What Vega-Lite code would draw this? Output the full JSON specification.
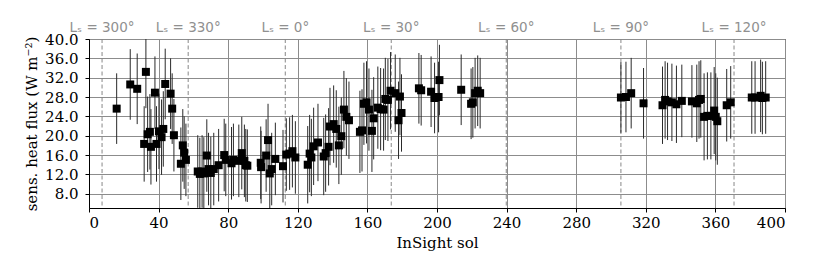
{
  "$schema": "https://vega.github.io/schema/vega-lite/v6.json",
  "width": 696,
  "height": 169,
  "autosize": "none",
  "padding": {"left": 89, "top": 39, "right": 38, "bottom": 67},
  "background": "white",
  "config": {
    "view": {"stroke": "black", "strokeWidth": 1},
    "axis": {
      "labelFont": "DejaVu Serif",
      "titleFont": "DejaVu Serif",
      "labelFontSize": 15,
      "titleFontSize": 15,
      "titleFontWeight": "normal",
      "labelColor": "black",
      "titleColor": "black",
      "domainColor": "black",
      "tickColor": "black",
      "tickSize": 4,
      "gridColor": "#8c8c8c",
      "gridWidth": 1,
      "labelOverlap": false
    }
  },
  "datasets": {
    "flux": [
      {"sol": 15.9, "flux": 25.6, "err": 7.3},
      {"sol": 23.7, "flux": 30.6, "err": 7.3},
      {"sol": 27.7, "flux": 29.7, "err": 7.3},
      {"sol": 32.7, "flux": 33.2, "err": 7.5},
      {"sol": 31.7, "flux": 18.3, "err": 7.8},
      {"sol": 33.7, "flux": 20.3, "err": 7.8},
      {"sol": 35.0, "flux": 20.8, "err": 7.8},
      {"sol": 35.6, "flux": 17.7, "err": 7.8},
      {"sol": 37.9, "flux": 28.9, "err": 7.5},
      {"sol": 38.8, "flux": 18.3, "err": 7.8},
      {"sol": 40.2, "flux": 20.9, "err": 7.8},
      {"sol": 41.7, "flux": 19.7, "err": 7.8},
      {"sol": 42.7, "flux": 21.4, "err": 7.8},
      {"sol": 43.8, "flux": 30.7, "err": 7.3},
      {"sol": 46.9, "flux": 28.7, "err": 7.3},
      {"sol": 47.8, "flux": 25.6, "err": 7.3},
      {"sol": 48.8, "flux": 20.1, "err": 7.5},
      {"sol": 52.8, "flux": 14.2, "err": 7.5},
      {"sol": 53.9, "flux": 18.0, "err": 7.5},
      {"sol": 54.7, "flux": 16.5, "err": 7.5},
      {"sol": 55.7, "flux": 15.0, "err": 7.5},
      {"sol": 62.5, "flux": 12.6, "err": 7.5},
      {"sol": 63.7, "flux": 12.1, "err": 7.5},
      {"sol": 65.0, "flux": 12.6, "err": 7.5},
      {"sol": 66.0, "flux": 12.2, "err": 7.5},
      {"sol": 67.7, "flux": 15.9, "err": 7.5},
      {"sol": 68.7, "flux": 13.1, "err": 7.5},
      {"sol": 70.0, "flux": 12.3, "err": 7.5},
      {"sol": 71.7, "flux": 13.1, "err": 7.5},
      {"sol": 74.5, "flux": 13.9, "err": 7.5},
      {"sol": 77.7, "flux": 16.0, "err": 7.5},
      {"sol": 78.6, "flux": 15.0, "err": 7.5},
      {"sol": 81.9, "flux": 14.3, "err": 7.5},
      {"sol": 83.0, "flux": 15.0, "err": 7.5},
      {"sol": 86.1, "flux": 14.8, "err": 7.5},
      {"sol": 87.8, "flux": 16.4, "err": 7.5},
      {"sol": 89.3, "flux": 14.8, "err": 7.5},
      {"sol": 90.1, "flux": 13.9, "err": 7.5},
      {"sol": 91.0, "flux": 13.8, "err": 7.5},
      {"sol": 98.7, "flux": 14.4, "err": 7.5},
      {"sol": 98.9, "flux": 13.5, "err": 7.5},
      {"sol": 101.8, "flux": 15.9, "err": 7.5},
      {"sol": 102.9, "flux": 19.1, "err": 7.5},
      {"sol": 103.9, "flux": 12.2, "err": 7.5},
      {"sol": 105.0, "flux": 13.1, "err": 7.5},
      {"sol": 107.1, "flux": 15.2, "err": 7.5},
      {"sol": 111.5, "flux": 13.7, "err": 7.5},
      {"sol": 113.4, "flux": 16.1, "err": 7.5},
      {"sol": 115.3, "flux": 16.3, "err": 7.5},
      {"sol": 116.9, "flux": 16.8, "err": 7.5},
      {"sol": 118.6, "flux": 15.5, "err": 7.5},
      {"sol": 125.7, "flux": 14.0, "err": 8.0},
      {"sol": 126.8, "flux": 16.3, "err": 8.0},
      {"sol": 127.8, "flux": 15.5, "err": 8.0},
      {"sol": 129.1, "flux": 17.8, "err": 8.0},
      {"sol": 131.6, "flux": 18.6, "err": 8.0},
      {"sol": 134.9, "flux": 15.7, "err": 8.0},
      {"sol": 136.0, "flux": 16.4, "err": 8.0},
      {"sol": 137.7, "flux": 17.7, "err": 8.0},
      {"sol": 138.5, "flux": 21.9, "err": 8.0},
      {"sol": 140.6, "flux": 22.4, "err": 8.0},
      {"sol": 142.1, "flux": 21.4, "err": 8.0},
      {"sol": 143.6, "flux": 18.0, "err": 8.0},
      {"sol": 145.0, "flux": 19.9, "err": 8.0},
      {"sol": 146.5, "flux": 25.4, "err": 8.0},
      {"sol": 147.9, "flux": 23.9, "err": 8.0},
      {"sol": 149.4, "flux": 23.2, "err": 8.0},
      {"sol": 155.7, "flux": 20.8, "err": 8.5},
      {"sol": 156.9, "flux": 21.1, "err": 8.5},
      {"sol": 158.0, "flux": 26.6, "err": 8.5},
      {"sol": 159.5, "flux": 26.9, "err": 8.5},
      {"sol": 160.9, "flux": 25.4, "err": 8.5},
      {"sol": 162.6, "flux": 21.0, "err": 8.5},
      {"sol": 163.6, "flux": 23.6, "err": 8.5},
      {"sol": 166.0, "flux": 25.8, "err": 8.5},
      {"sol": 167.6, "flux": 25.5, "err": 8.5},
      {"sol": 169.3, "flux": 25.4, "err": 8.5},
      {"sol": 170.3, "flux": 27.6, "err": 8.5},
      {"sol": 171.8, "flux": 27.4, "err": 8.5},
      {"sol": 173.3, "flux": 29.3, "err": 8.0},
      {"sol": 176.0, "flux": 28.8, "err": 8.0},
      {"sol": 178.7, "flux": 28.1, "err": 8.0},
      {"sol": 177.9, "flux": 23.2, "err": 8.0},
      {"sol": 179.6, "flux": 24.7, "err": 8.0},
      {"sol": 189.6, "flux": 29.8, "err": 7.3},
      {"sol": 190.9, "flux": 29.4, "err": 7.3},
      {"sol": 196.6, "flux": 29.1, "err": 7.3},
      {"sol": 198.6, "flux": 27.8, "err": 7.3},
      {"sol": 200.9, "flux": 28.0, "err": 7.3},
      {"sol": 201.4, "flux": 31.5, "err": 7.3},
      {"sol": 213.9, "flux": 29.5, "err": 7.3},
      {"sol": 219.6, "flux": 26.6, "err": 7.3},
      {"sol": 220.6, "flux": 26.9, "err": 7.3},
      {"sol": 221.9, "flux": 28.8, "err": 7.3},
      {"sol": 223.4, "flux": 29.3, "err": 7.3},
      {"sol": 224.8, "flux": 28.8, "err": 7.3},
      {"sol": 305.7, "flux": 27.9, "err": 7.3},
      {"sol": 308.6, "flux": 28.0, "err": 7.3},
      {"sol": 311.6, "flux": 28.8, "err": 7.3},
      {"sol": 318.7, "flux": 26.7, "err": 7.3},
      {"sol": 329.6, "flux": 26.3, "err": 8.0},
      {"sol": 331.1, "flux": 27.4, "err": 8.0},
      {"sol": 332.5, "flux": 27.1, "err": 8.0},
      {"sol": 335.0, "flux": 26.9, "err": 8.0},
      {"sol": 337.6, "flux": 26.5, "err": 8.0},
      {"sol": 340.7, "flux": 27.2, "err": 7.5},
      {"sol": 346.5, "flux": 27.1, "err": 7.5},
      {"sol": 349.3, "flux": 26.7, "err": 8.0},
      {"sol": 350.6, "flux": 27.4, "err": 8.0},
      {"sol": 351.6, "flux": 27.6, "err": 8.0},
      {"sol": 353.5, "flux": 23.9, "err": 9.0},
      {"sol": 355.4, "flux": 24.1, "err": 9.0},
      {"sol": 357.4, "flux": 24.1, "err": 9.0},
      {"sol": 359.3, "flux": 25.2, "err": 9.0},
      {"sol": 360.2, "flux": 23.9, "err": 9.0},
      {"sol": 361.1, "flux": 23.0, "err": 9.0},
      {"sol": 366.5, "flux": 26.3, "err": 7.5},
      {"sol": 368.8, "flux": 26.9, "err": 7.5},
      {"sol": 380.9, "flux": 27.9, "err": 7.5},
      {"sol": 382.8, "flux": 27.9, "err": 7.5},
      {"sol": 386.0, "flux": 28.25, "err": 7.5},
      {"sol": 387.0, "flux": 27.8, "err": 7.5},
      {"sol": 388.9, "flux": 27.9, "err": 7.5}
    ],
    "ls": [
      {"sol": 7.5, "label": "Lₛ = 300°"},
      {"sol": 57, "label": "Lₛ = 330°"},
      {"sol": 112.8, "label": "Lₛ = 0°"},
      {"sol": 173.7, "label": "Lₛ = 30°"},
      {"sol": 239.8, "label": "Lₛ = 60°"},
      {"sol": 305.7, "label": "Lₛ = 90°"},
      {"sol": 370.7, "label": "Lₛ = 120°"}
    ]
  },
  "encoding": {
    "x": {
      "field": "sol",
      "type": "quantitative",
      "scale": {"domain": [0, 400], "nice": false, "zero": false},
      "axis": {
        "title": "InSight sol",
        "values": [0, 40, 80, 120, 160, 200, 240, 280, 320, 360, 400],
        "format": "d",
        "labelPadding": 3,
        "titlePadding": 5,
        "grid": true
      }
    }
  },
  "layer": [
    {
      "data": {"name": "ls"},
      "mark": {"type": "rule", "color": "#888888", "strokeWidth": 1, "strokeDash": [4, 2.5]},
      "encoding": {}
    },
    {
      "data": {"name": "flux"},
      "encoding": {
        "y": {
          "field": "flux",
          "type": "quantitative",
          "scale": {"domain": [5.05, 40], "nice": false, "zero": false},
          "axis": {
            "title": "sens. heat flux (W m⁻²)",
            "values": [8, 12, 16, 20, 24, 28, 32, 36, 40],
            "format": ".1f",
            "labelPadding": 7,
            "titleX": -58,
            "titleY": 84.5,
            "titleAngle": 270,
            "titleAlign": "center",
            "titleBaseline": "middle",
            "grid": true
          }
        }
      },
      "layer": [
        {
          "mark": {"type": "errorbar", "ticks": false, "color": "#2a2a2a", "thickness": 1, "clip": true},
          "encoding": {"yError": {"field": "err"}}
        },
        {
          "mark": {"type": "point", "shape": "square", "filled": true, "size": 64, "color": "black", "opacity": 1, "clip": true},
          "encoding": {}
        }
      ]
    },
    {
      "data": {"name": "ls"},
      "mark": {"type": "text", "color": "#909090", "font": "DejaVu Sans", "fontSize": 13.5, "align": "center", "baseline": "middle", "clip": false},
      "encoding": {
        "y": {
          "datum": 42.2,
          "type": "quantitative",
          "axis": {
            "title": "sens. heat flux (W m⁻²)",
            "values": [8, 12, 16, 20, 24, 28, 32, 36, 40],
            "format": ".1f",
            "labelPadding": 7,
            "titleX": -58,
            "titleY": 84.5,
            "titleAngle": 270,
            "titleAlign": "center",
            "titleBaseline": "middle",
            "grid": true
          }
        },
        "text": {"field": "label"}
      }
    }
  ]
}
